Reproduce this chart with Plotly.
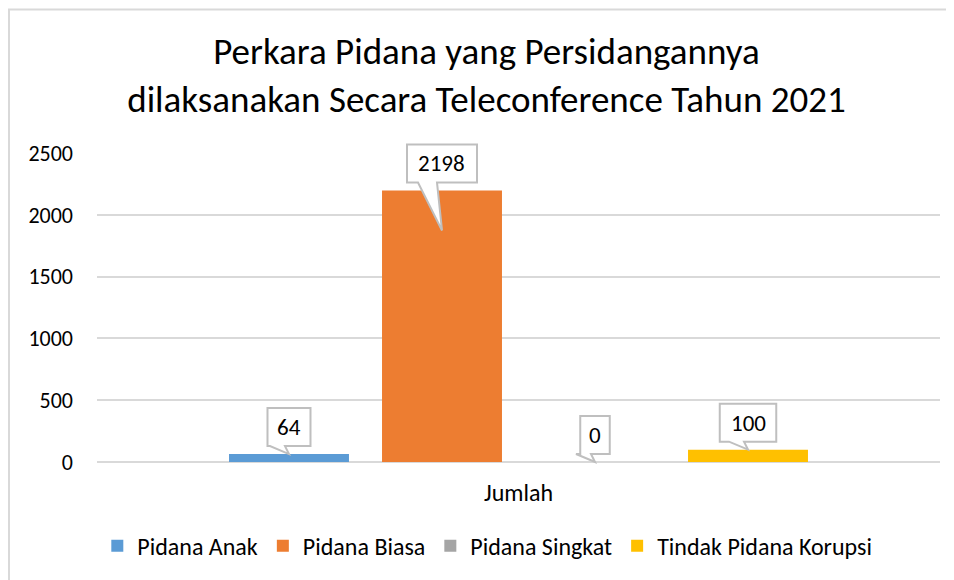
import plotly.graph_objects as go

# ---- data ----
categories = ["Jumlah"]
series_names = ["Pidana Anak", "Pidana Biasa", "Pidana Singkat", "Tindak Pidana Korupsi"]
series_values = [64, 2198, 0, 100]
y_ticks = [0, 500, 1000, 1500, 2000, 2500]

# ---- style ----
colors = ["#5B9BD5", "#ED7D31", "#A5A5A5", "#FFC000"]
FONT = "Carlito, Lato, sans-serif"
BARGAP = 0.274
BARGROUPGAP = 0.216
Y_MAX = 2501
pointer_depth = [0, 40, 0, 0]   # how far the callout pointer reaches below the bar top (px)

fig = go.Figure()
for name, val, col in zip(series_names, series_values, colors):
    fig.add_trace(go.Bar(
        x=categories, y=[val], name=name, marker=dict(color=col, line=dict(width=0)),
        hoverinfo="skip",
    ))

# callouts: positioned at the bar centres, computed from the grouped-bar geometry
n = len(series_names)
group_w = 1 - BARGAP
slot = group_w / n
shapes = []
annotations = []
for i, (val, depth) in enumerate(zip(series_values, pointer_depth)):
    xc = -group_w / 2 + slot * (i + 0.5)      # category-axis units, category spans [-0.5, 0.5]
    px = xc + 0.5                               # same position in paper units
    py = val / Y_MAX
    label = str(val)
    w = 16 + 13.5 * len(label)
    b, h = 8, 38
    tip = -depth
    bl = -24 if depth > 0 else -19
    br = -5 if depth > 0 else -4
    path = (f"M{-w/2},{b} L{-w/2},{b+h} L{w/2},{b+h} L{w/2},{b} "
            f"L{br},{b} L0,{tip} L{bl},{b} Z")
    shapes.append(dict(
        type="path", xref="paper", yref="paper", xsizemode="pixel", ysizemode="pixel",
        xanchor=px, yanchor=py, path=path,
        fillcolor="white", line=dict(color="#BFBFBF", width=2), layer="above",
    ))
    annotations.append(dict(
        x=px, y=py, xref="paper", yref="paper", text=label, showarrow=False,
        yshift=b + h / 2, font=dict(family=FONT, size=23, color="#000000"),
        xanchor="center", yanchor="middle",
    ))

# chart border (only top and left edges visible in the frame)
shapes.append(dict(
    type="rect", xref="paper", yref="paper",
    x0=-0.1044, x1=1.3, y0=-1.0, y1=1.4644,
    line=dict(color="#D9D9D9", width=2), fillcolor="rgba(0,0,0,0)", layer="below",
))

fig.update_layout(
    width=946, height=572,
    margin=dict(l=89, r=14, t=145, b=118, autoexpand=False),
    paper_bgcolor="white", plot_bgcolor="white",
    barmode="group", bargap=BARGAP, bargroupgap=BARGROUPGAP,
    font=dict(family=FONT, size=24, color="#000000"),
    title=dict(
        text="Perkara Pidana yang Persidangannya<br>dilaksanakan Secara Teleconference Tahun 2021",
        x=0.462, xref="paper", xanchor="center",
        y=1 - 56 / 572, yref="container", yanchor="middle",
        font=dict(family=FONT, size=37, color="#000000"),
    ),
    showlegend=True,
    legend=dict(
        orientation="h", x=0.463, xanchor="center", xref="paper",
        y=-0.272, yanchor="middle", yref="paper",
        font=dict(family=FONT, size=24, color="#000000"),
        traceorder="normal",
    ),
    shapes=shapes,
    annotations=annotations,
)
fig.update_yaxes(
    range=[0, Y_MAX], tickvals=y_ticks, showgrid=True, gridcolor="#D9D9D9", gridwidth=1.5,
    zeroline=True, zerolinecolor="#D9D9D9", zerolinewidth=1.5, showline=False,
    ticks="", ticklabelstandoff=23, tickfont=dict(family=FONT, size=22),
)
fig.update_xaxes(
    showgrid=False, showline=False, ticks="", ticklabelstandoff=14,
    tickfont=dict(family=FONT, size=24),
)

fig.write_html("out.html")
